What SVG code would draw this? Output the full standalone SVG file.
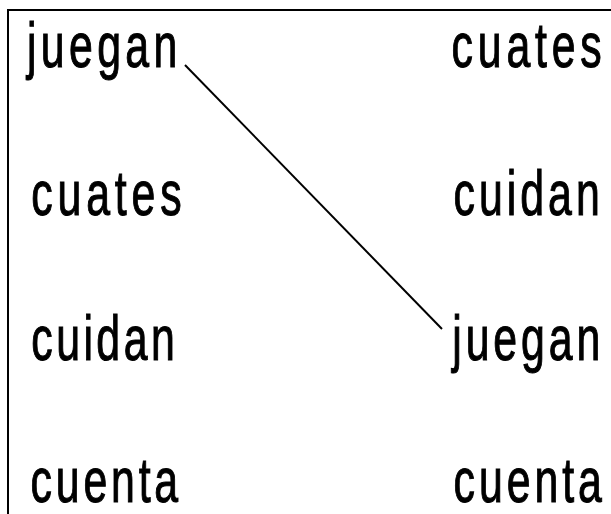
<svg xmlns="http://www.w3.org/2000/svg" width="611" height="514" viewBox="0 0 611 514">
<style>
text{font-family:"Liberation Sans",Arial,sans-serif;font-size:63px;fill:#000;stroke:#000;stroke-width:1.1}
.frame{stroke:#000;stroke-width:2;fill:none}
.conn{stroke:#000;stroke-width:2;fill:none}
</style>
<rect width="611" height="514" fill="#fff"/>
<path class="frame" d="M611,10 H8 V514"/>
<g id="L1"><text transform="scale(0.68,1)" x="39.7" y="67" textLength="221" lengthAdjust="spacing">juegan</text></g>
<g id="L2"><text transform="scale(0.68,1)" x="46" y="215" textLength="221" lengthAdjust="spacing">cuates</text></g>
<g id="L3"><text transform="scale(0.68,1)" x="46" y="360" textLength="211" lengthAdjust="spacing">cuidan</text></g>
<g id="L4"><text transform="scale(0.68,1)" x="45" y="502" textLength="217" lengthAdjust="spacing">cuenta</text></g>
<g id="R1"><text transform="scale(0.68,1)" x="664" y="67" textLength="221" lengthAdjust="spacing">cuates</text></g>
<g id="R2"><text transform="scale(0.68,1)" x="667" y="215" textLength="215" lengthAdjust="spacing">cuidan</text></g>
<g id="R3"><text transform="scale(0.68,1)" x="665" y="360" textLength="218" lengthAdjust="spacing">juegan</text></g>
<g id="R4"><text transform="scale(0.68,1)" x="667" y="502" textLength="218" lengthAdjust="spacing">cuenta</text></g>
<g id="connectors"><line class="conn" x1="185" y1="65" x2="442" y2="329"/></g>
</svg>
